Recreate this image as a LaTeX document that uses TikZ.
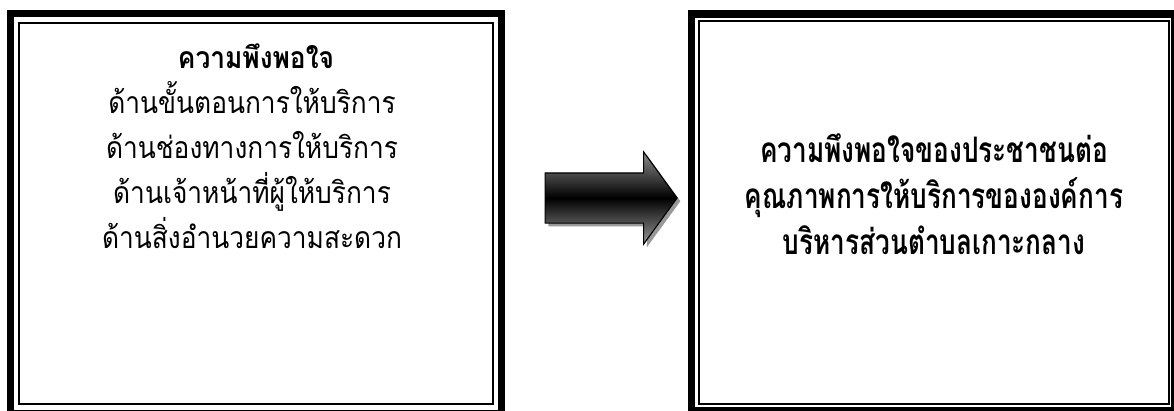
\documentclass[tikz,border=0pt]{standalone}
\usepackage{fontspec}
\newfontfamily\thaifont[Script=Thai, FakeStretch=0.87]{Loma}
\newfontfamily\thaihead[Script=Thai, FakeStretch=0.745]{Loma}
\usetikzlibrary{shapes.arrows, shadows, positioning}
\pgfdeclareverticalshading{arrowshade}{100bp}{color(0bp)=(black!40); color(25bp)=(black!40);
  color(50bp)=(black); color(75bp)=(black!45); color(100bp)=(black!45)}

\begin{document}
\begin{tikzpicture}
  [x=0.025cm, y=-0.025cm,
  outerline/.style={draw, line width=5pt, inner sep=0pt},
  innerline/.style={draw, line width=1.1pt, inner sep=0pt},
  body/.style={anchor=base, inner sep=0pt, font=\thaifont\fontsize{21.5}{26}\selectfont},
  headline/.style={anchor=base, inner sep=0pt, font=\thaihead\bfseries\fontsize{25}{30}\selectfont},
  flow/.style={single arrow, draw=black, thick, inner sep=0pt,
    text height=0.6125cm, text depth=0.6125cm,
    minimum height=3.3cm, minimum width=2.275cm,
    single arrow head extend=0.525cm, single arrow tip angle=108,
    shading=arrowshade,
    drop shadow={shadow xshift=0.08cm, shadow yshift=-0.08cm, fill=black!40, opacity=1}}]

\useasboundingbox (0,0) rectangle (1174,410);

% Left box: aspects of satisfaction
\node[outerline, minimum width=12.26cm, minimum height=10.01cm] (factors) at (255.75,213.75) {};
\node[innerline, minimum width=11.85cm, minimum height=9.525cm] (factorsin) at (256,213.5) {};
\node[body, font=\thaifont\bfseries\fontsize{21.5}{26}\selectfont] (title) at (256,68) {ความพึงพอใจ};
\node[body] (step) at (252,113) {ด้านขั้นตอนการให้บริการ};
\node[body] (channel) at (252,158) {ด้านช่องทางการให้บริการ};
\node[body] (staff) at (252,203) {ด้านเจ้าหน้าที่ผู้ให้บริการ};
\node[body] (facility) at (252,248) {ด้านสิ่งอำนวยความสะดวก};

% Right box: overall satisfaction
\node[outerline, minimum width=12.075cm, minimum height=9.91cm] (result) at (933,212.25) {};
\node[innerline, minimum width=11.75cm, minimum height=9.575cm] (resultin) at (934,212.5) {};
\node[headline] (people) at (934,162) {ความพึงพอใจของประชาชนต่อ};
\node[headline] (quality) at (934,208) {คุณภาพการให้บริการขององค์การ};
\node[headline] (office) at (934,254) {บริหารส่วนตำบลเกาะกลาง};

% Arrow between the boxes
\node[flow] (link) at (602,198) {};

\end{tikzpicture}
\end{document}
